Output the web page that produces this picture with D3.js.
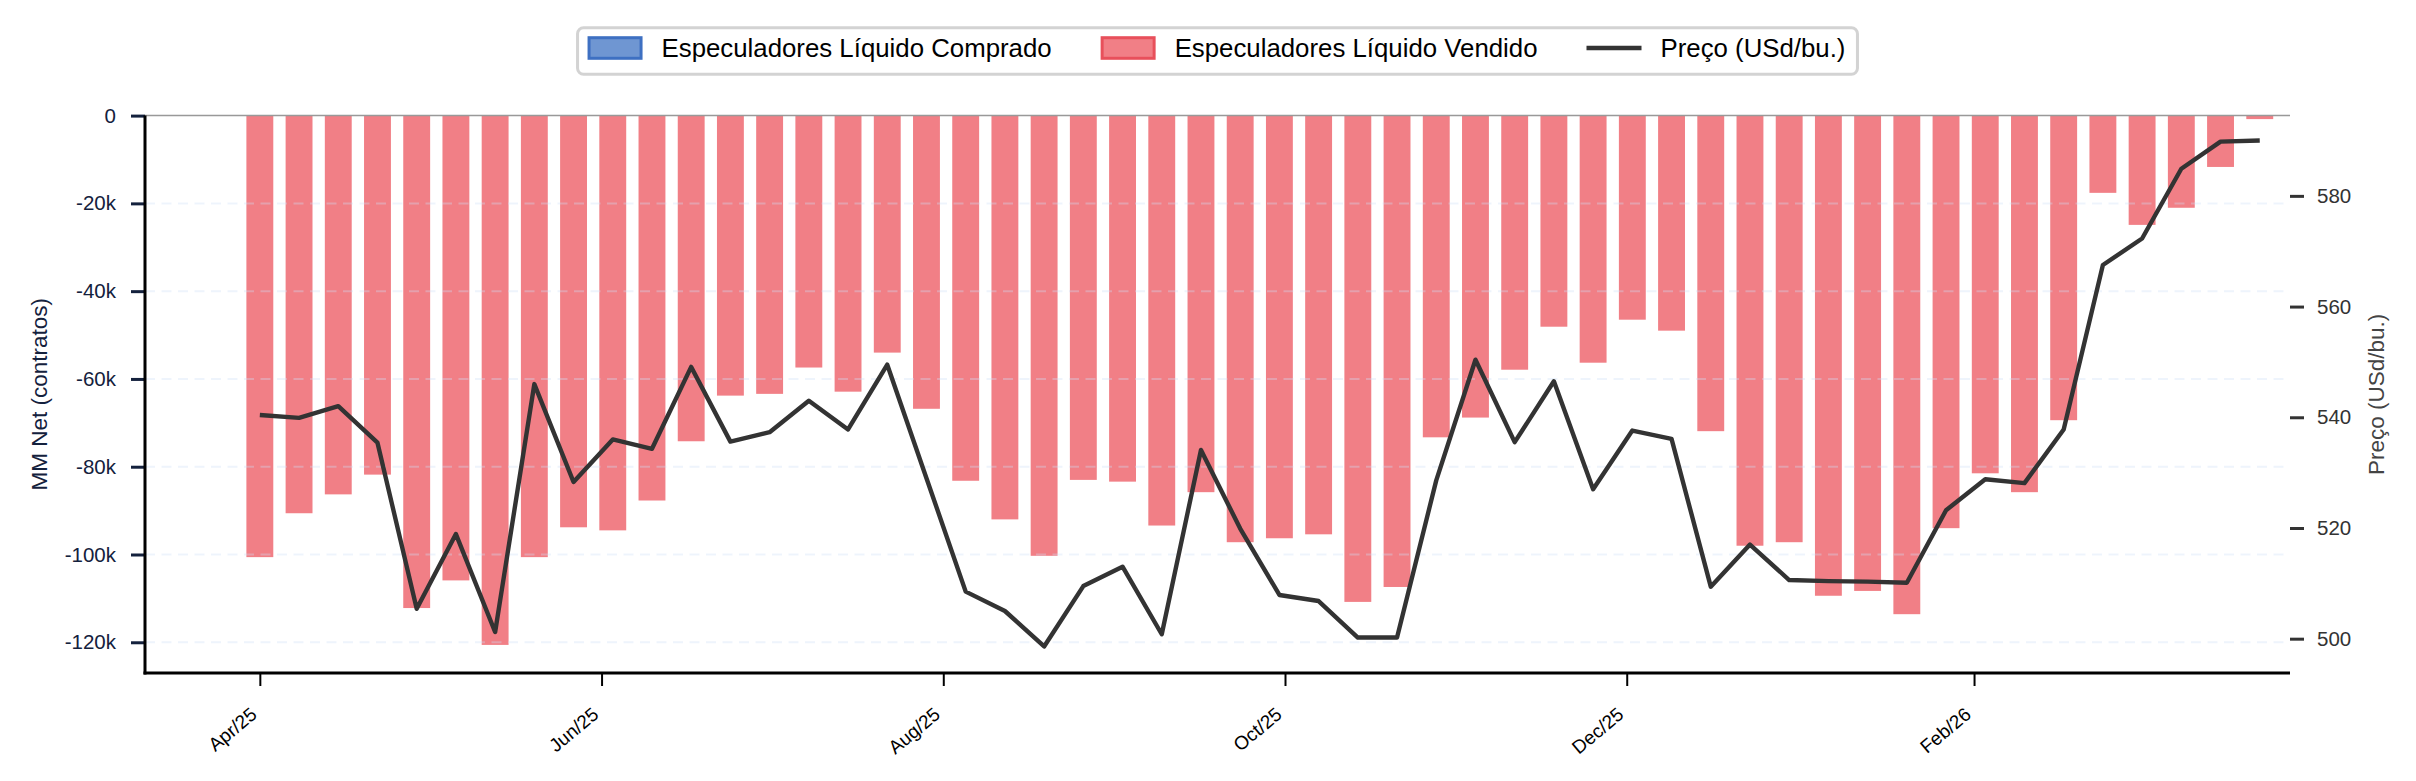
<!DOCTYPE html>
<html>
<head>
<meta charset="utf-8">
<script src="https://cdn.jsdelivr.net/npm/d3@7"></script>
<style>
  body { margin: 0; background: #fff; }
  text { font-family: "Liberation Sans", Arial, sans-serif; }
</style>
</head>
<body>
<div id="chart"></div>
<script>
// weekly COT report dates (Tuesdays)
var startDate = "2025-04-01";
var weekCount = 52;

// managed money net position (contracts)
var mmNet = [
  -100600, -90600, -86300, -81800, -112200, -105900, -120600, -100600, -93800, -94500,
  -87700, -74200, -63800, -63400, -57400, -62900, -54000, -66800, -83200, -92000,
  -100300, -83000, -83400, -93400, -85800, -97200, -96300, -95400, -110800, -107400,
  -73300, -68800, -57900, -48100, -56300, -46500, -49000, -71900, -98000, -97200,
  -109400, -108300, -113600, -94000, -81500, -85800, -69400, -17600, -24900, -21000,
  -11700, -800
];

// price (USd/bu.)
var price = [
  540.4, 539.9, 542.0, 535.4, 505.4, 518.9, 501.2, 546.0, 528.3, 536.0,
  534.3, 549.1, 535.6, 537.3, 543.0, 537.8, 549.5, 529.0, 508.5, 505.0,
  498.6, 509.5, 513.0, 500.8, 534.1, 519.9, 507.9, 506.8, 500.2, 500.2,
  528.6, 550.4, 535.5, 546.5, 527.0, 537.6, 536.1, 509.4, 517.0, 510.6,
  510.4, 510.3, 510.1, 523.2, 528.8, 528.1, 537.8, 567.5, 572.3, 584.9,
  589.8, 590.0
];

var leftTicks = [0, -20000, -40000, -60000, -80000, -100000, -120000];
var rightTicks = [500, 520, 540, 560, 580];
var monthTicks = ["2025-04-01", "2025-06-01", "2025-08-01", "2025-10-01", "2025-12-01", "2026-02-01"];
var monthNames = ["Jan", "Feb", "Mar", "Apr", "May", "Jun", "Jul", "Aug", "Sep", "Oct", "Nov", "Dec"];

var legendItems = [
  { label: "Especuladores Líquido Comprado", kind: "patch", fill: "#6f96d2", stroke: "#3e70c2" },
  { label: "Especuladores Líquido Vendido", kind: "patch", fill: "#f17f86", stroke: "#e8505b" },
  { label: "Preço (USd/bu.)", kind: "line", stroke: "#333333" }
];

var W = 2416, H = 781;
var plot = { left: 145, right: 2290, top: 115.6, bottom: 673 };
var DAY = 24 * 3600 * 1000;

var parseDate = d3.timeParse("%Y-%m-%d");
var t0 = parseDate(startDate);
var dates = d3.range(weekCount).map(function (i) { return d3.timeDay.offset(t0, 7 * i); });
var data = dates.map(function (d, i) { return { date: d, net: mmNet[i], price: price[i] }; });

var svg = d3.select("#chart").append("svg")
  .attr("width", W)
  .attr("height", H);
svg.append("rect").attr("width", W).attr("height", H).attr("fill", "#fff");

var x = d3.scaleTime()
  .domain([new Date(+dates[0] - 20.5 * DAY), new Date(+dates[dates.length - 1] + 5.4 * DAY)])
  .range([plot.left, plot.right]);
var yL = d3.scaleLinear().domain([-127000, 0]).range([plot.bottom, plot.top]);
var yR = d3.scaleLinear().domain([493.8, 594.5]).range([plot.bottom, plot.top]);

var barW = x(new Date(+dates[0] + 4.8 * DAY)) - x(dates[0]);

// bars
svg.append("g")
  .selectAll("rect")
  .data(data)
  .enter().append("rect")
  .attr("x", function (d) { return x(d.date) - barW / 2; })
  .attr("y", function (d) { return d.net < 0 ? yL(0) : yL(d.net); })
  .attr("width", barW)
  .attr("height", function (d) { return Math.abs(yL(d.net) - yL(0)); })
  .attr("fill", function (d) { return d.net < 0 ? "#f17f86" : "#6f96d2"; });

// dashed grid (on top, faint)
svg.append("g")
  .selectAll("line")
  .data(leftTicks.filter(function (v) { return v !== 0; }))
  .enter().append("line")
  .attr("x1", plot.left).attr("x2", plot.right)
  .attr("y1", function (d) { return yL(d); })
  .attr("y2", function (d) { return yL(d); })
  .attr("stroke", "#cfe0f5")
  .attr("stroke-opacity", 0.35)
  .attr("stroke-width", 2)
  .attr("stroke-dasharray", "10,6.5");

// zero line
svg.append("line")
  .attr("x1", plot.left).attr("x2", plot.right)
  .attr("y1", yL(0)).attr("y2", yL(0))
  .attr("stroke", "#999")
  .attr("stroke-width", 1.5);

// price line
var line = d3.line()
  .x(function (d) { return x(d.date); })
  .y(function (d) { return yR(d.price); });
svg.append("path")
  .datum(data)
  .attr("d", line)
  .attr("fill", "none")
  .attr("stroke", "#333333")
  .attr("stroke-width", 4.4)
  .attr("stroke-linejoin", "round");

// left axis
var yAxisL = d3.axisLeft(yL)
  .tickValues(leftTicks)
  .tickSize(14)
  .tickPadding(15)
  .tickFormat(function (d) { return d === 0 ? "0" : (d / 1000) + "k"; });
var gL = svg.append("g")
  .attr("transform", "translate(" + plot.left + ",0)")
  .call(yAxisL);
gL.select(".domain").remove();
gL.selectAll(".tick line").attr("stroke", "#14213d").attr("stroke-width", 3);
gL.selectAll(".tick text").attr("fill", "#14213d").style("font-size", "20.5px")
  .style("font-family", "'Liberation Sans', Arial, sans-serif");
svg.append("line")
  .attr("x1", plot.left).attr("x2", plot.left)
  .attr("y1", plot.top).attr("y2", plot.bottom + 1.5)
  .attr("stroke", "#000").attr("stroke-width", 3);

// right axis
var yAxisR = d3.axisRight(yR)
  .tickValues(rightTicks)
  .tickSize(14)
  .tickPadding(13);
var gR = svg.append("g")
  .attr("transform", "translate(" + plot.right + ",0)")
  .call(yAxisR);
gR.select(".domain").remove();
gR.selectAll(".tick line").attr("stroke", "#333").attr("stroke-width", 3);
gR.selectAll(".tick text").attr("fill", "#333").style("font-size", "20.5px")
  .style("font-family", "'Liberation Sans', Arial, sans-serif");

// bottom axis
var xAxis = d3.axisBottom(x)
  .tickValues(monthTicks.map(parseDate))
  .tickSize(13)
  .tickFormat(function (d) { return monthNames[d.getMonth()] + "/" + String(d.getFullYear()).slice(2); });
var gX = svg.append("g")
  .attr("transform", "translate(0," + plot.bottom + ")")
  .call(xAxis);
gX.select(".domain").remove();
gX.selectAll(".tick line").attr("stroke", "#000").attr("stroke-width", 2);
gX.selectAll(".tick text")
  .attr("fill", "#000")
  .style("font-size", "19px")
  .style("font-family", "'Liberation Sans', Arial, sans-serif")
  .attr("text-anchor", "end")
  .attr("y", 0)
  .attr("dy", "0.71em")
  .attr("transform", "translate(-11,33) rotate(-40)");
svg.append("line")
  .attr("x1", plot.left - 1.5).attr("x2", plot.right)
  .attr("y1", plot.bottom).attr("y2", plot.bottom)
  .attr("stroke", "#000").attr("stroke-width", 3);

// axis labels
svg.append("text")
  .attr("transform", "translate(39," + ((plot.top + plot.bottom) / 2) + ") rotate(-90)")
  .attr("text-anchor", "middle")
  .attr("dy", "0.35em")
  .attr("fill", "#14213d")
  .style("font-size", "22.5px")
  .text("MM Net (contratos)");
svg.append("text")
  .attr("transform", "translate(2376," + ((plot.top + plot.bottom) / 2) + ") rotate(-90)")
  .attr("text-anchor", "middle")
  .attr("dy", "0.35em")
  .attr("fill", "#444")
  .style("font-size", "22.5px")
  .text("Preço (USd/bu.)");

// legend
var leg = svg.append("g");
var box = leg.append("rect")
  .attr("fill", "#fff")
  .attr("stroke", "#d3d3d3")
  .attr("stroke-width", 3)
  .attr("rx", 6);
var cx = 0, legY = 48;
legendItems.forEach(function (it, i) {
  if (it.kind === "patch") {
    leg.append("rect")
      .attr("x", cx + 1.5).attr("y", legY - 10.3)
      .attr("width", 52).attr("height", 20.6)
      .attr("fill", it.fill)
      .attr("stroke", it.stroke)
      .attr("stroke-width", 3);
  } else {
    leg.append("line")
      .attr("x1", cx).attr("x2", cx + 55)
      .attr("y1", legY).attr("y2", legY)
      .attr("stroke", it.stroke)
      .attr("stroke-width", 4.4);
  }
  var t = leg.append("text")
    .attr("x", cx + 74)
    .attr("y", legY)
    .attr("dy", "0.35em")
    .attr("fill", "#000")
    .style("font-size", "25.8px")
    .text(it.label);
  cx += 74 + t.node().getComputedTextLength() + (i < legendItems.length - 1 ? 49 : 0);
});
var padL = 10, padR = 12;
box.attr("x", -padL).attr("y", 27.7)
  .attr("width", cx + padL + padR).attr("height", 46.6);
var legLeft = (plot.left + plot.right) / 2 - (cx + padL + padR) / 2 + padL;
leg.attr("transform", "translate(" + legLeft + ",0)");
</script>
</body>
</html>
